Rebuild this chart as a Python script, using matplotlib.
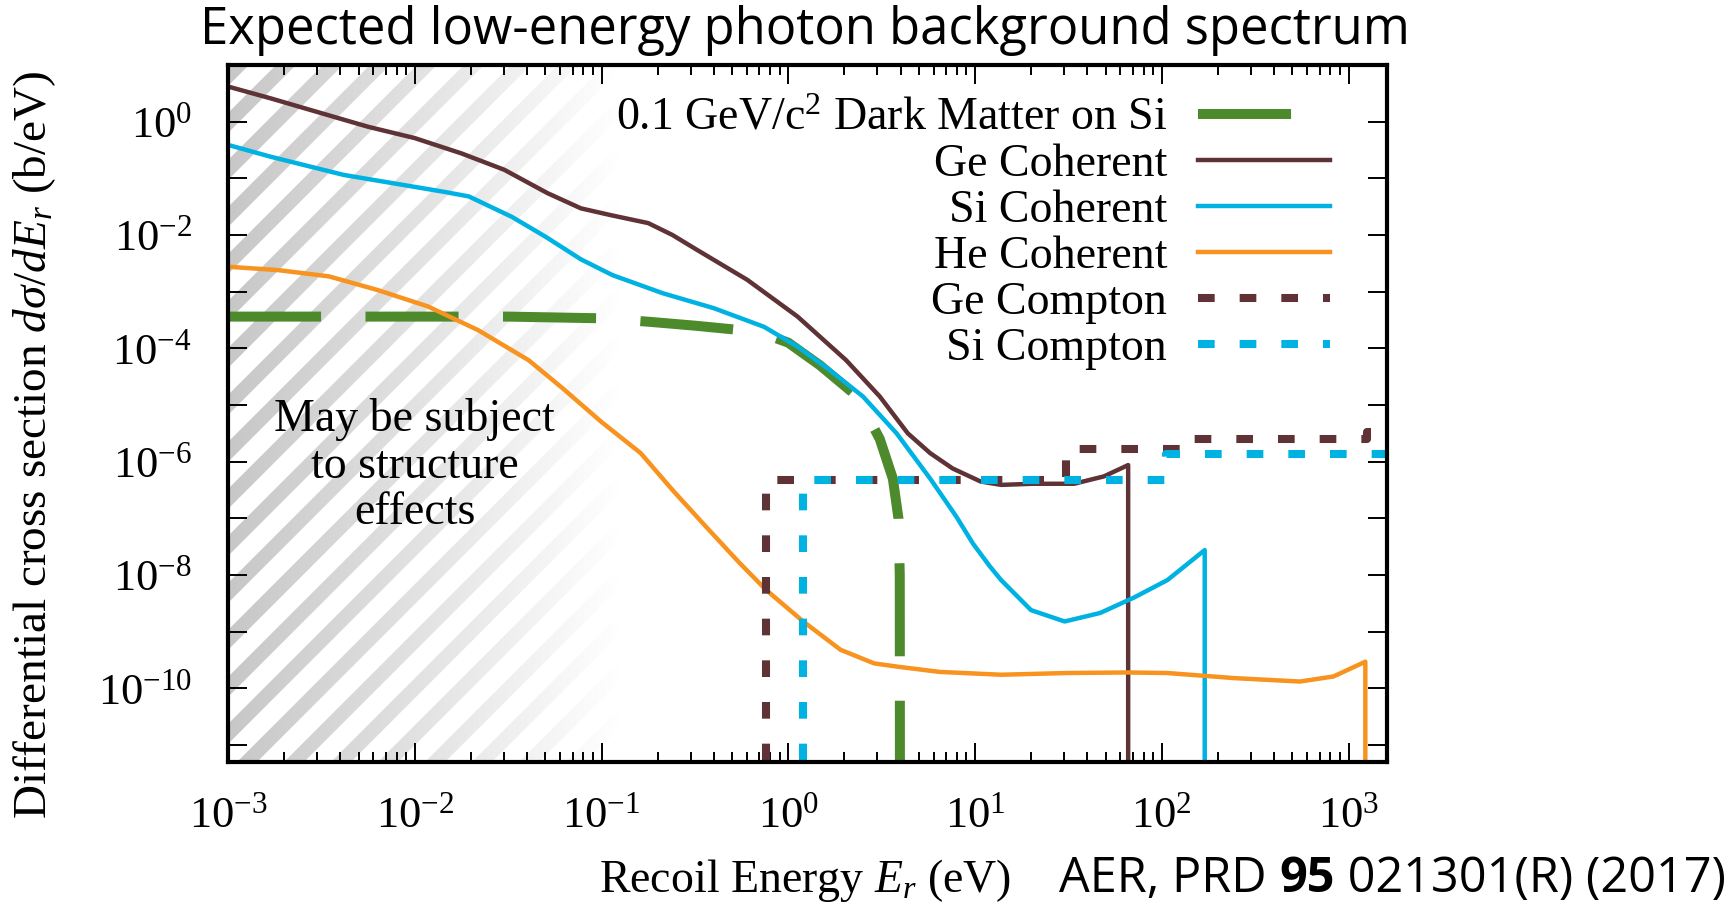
import numpy as np
import matplotlib
matplotlib.use('Agg')
import matplotlib.pyplot as plt
from matplotlib.ticker import LogLocator, FuncFormatter, NullLocator, NullFormatter

plt.rcParams['font.family'] = 'Liberation Serif'
plt.rcParams['mathtext.fontset'] = 'custom'
plt.rcParams['mathtext.rm'] = 'Liberation Serif'
plt.rcParams['mathtext.it'] = 'Liberation Serif:italic'
plt.rcParams['mathtext.bf'] = 'Liberation Serif:bold'
plt.rcParams['lines.scale_dashes'] = False
plt.rcParams['lines.solid_joinstyle'] = 'round'

# all curves given as log10(E / eV) and log10(dsigma/dE / (b/eV))
dm_log_e = [-3.0, -1.5, -1.0, -0.75, -0.5, -0.25, -0.1, 0.0, 0.17, 0.37, 0.49, 0.56, 0.59, 0.597, 0.598]
dm_log_xs = [-3.44, -3.44, -3.47, -3.53, -3.6, -3.68, -3.78, -3.9, -4.3, -4.85, -5.6, -6.3, -7.0, -8.0, -12.0]

ge_coh_log_e = [-3.0, -2.77, -2.5, -2.25, -2.0, -1.75, -1.52, -1.29, -1.11, -0.95, -0.75, -0.62, -0.49,
                -0.22, 0.05, 0.31, 0.49, 0.64, 0.76, 0.88, 1.03, 1.14, 1.31, 1.53, 1.69, 1.82, 1.82]
ge_coh_log_xs = [0.62, 0.41, 0.15, -0.09, -0.29, -0.56, -0.85, -1.26, -1.53, -1.65, -1.79, -2.0, -2.26,
                 -2.79, -3.44, -4.21, -4.85, -5.5, -5.85, -6.12, -6.35, -6.41, -6.39, -6.39, -6.26, -6.06, -12.0]

si_coh_log_e = [-3.0, -2.77, -2.38, -2.11, -1.84, -1.71, -1.48, -1.30, -1.11, -0.94, -0.67, -0.40, -0.13,
                0.05, 0.22, 0.40, 0.58, 0.76, 0.90, 0.99, 1.08, 1.14, 1.30, 1.48, 1.67, 1.85, 2.03, 2.23, 2.23]
si_coh_log_xs = [-0.41, -0.62, -0.94, -1.09, -1.24, -1.32, -1.68, -2.03, -2.43, -2.71, -3.03, -3.29, -3.62,
                 -3.97, -4.38, -4.85, -5.5, -6.3, -6.97, -7.45, -7.85, -8.09, -8.62, -8.82, -8.67, -8.40,
                 -8.09, -7.56, -12.0]

he_coh_log_e = [-3.0, -2.73, -2.46, -2.2, -1.93, -1.66, -1.39, -1.21, -1.0, -0.79, -0.62, -0.44, -0.26,
                -0.12, 0.08, 0.28, 0.46, 0.59, 0.81, 1.14, 1.49, 1.82, 2.03, 2.39, 2.74, 2.92, 3.09, 3.09]
he_coh_log_xs = [-2.56, -2.62, -2.73, -2.97, -3.26, -3.68, -4.21, -4.70, -5.3, -5.85, -6.5, -7.15, -7.79,
                 -8.26, -8.82, -9.32, -9.56, -9.62, -9.71, -9.76, -9.73, -9.72, -9.73, -9.82, -9.88, -9.79,
                 -9.53, -12.0]

# Compton: piecewise constant between edge energies
ge_compton_edges = [-0.118, 1.489, 2.14, 3.10, 3.21]
ge_compton_levels = [-6.32, -5.78, -5.60, -5.47]
si_compton_edges = [0.078, 2.02, 3.21]
si_compton_levels = [-6.32, -5.86]

labels = [r'0.1 GeV/c$^2$ Dark Matter on Si', 'Ge Coherent', 'Si Coherent', 'He Coherent',
          'Ge Compton', 'Si Compton']

GE_COL = '#5f3236'
SI_COL = '#00b2e2'
HE_COL = '#f7931e'
DM_COL = '#4c8a2b'


def steps(edges, levels, floor=-12.0):
    xs, ys = [edges[0]], [floor]
    for i, lv in enumerate(levels):
        xs += [edges[i], edges[i + 1]]
        ys += [lv, lv]
    return np.array(xs), np.array(ys)


def pw(a):
    return 10.0 ** np.asarray(a)


W_PX, H_PX = 1734, 902
x0, x1, y0, y1 = 228, 1387, 65, 762
rect = [x0 / W_PX, 1 - y1 / H_PX, (x1 - x0) / W_PX, (y1 - y0) / H_PX]

fig = plt.figure(figsize=(W_PX / 100, H_PX / 100), dpi=100)

# striped, fading band for the low-energy region
bg = fig.add_axes(rect, zorder=0)
aw, ah = x1 - x0, y1 - y0
band_w = 420
jj, rr = np.meshgrid(np.arange(band_w), np.arange(ah))
phase = (jj + rr) % 47
cov = np.clip(np.minimum(phase + 0.5, 20.5 - phase), 0, 1)
shade = 0.78 + 0.22 * np.clip(jj / 390.0, 0, 1)
gray = 1 - cov * (1 - shade)
img = np.dstack([gray, gray, gray])
bg.imshow(img, extent=(0, band_w / aw, 0, 1), aspect='auto', interpolation='nearest')
bg.set_xlim(0, 1)
bg.set_ylim(0, 1)
bg.axis('off')

ax = fig.add_axes(rect, zorder=1)
ax.patch.set_alpha(0)

ax.plot(pw(dm_log_e), pw(dm_log_xs), color=DM_COL, lw=7.2, dashes=(67, 32), label=labels[0])
ax.plot(pw(ge_coh_log_e), pw(ge_coh_log_xs), color=GE_COL, lw=3.2, label=labels[1])
ax.plot(pw(si_coh_log_e), pw(si_coh_log_xs), color=SI_COL, lw=3.2, label=labels[2])
ax.plot(pw(he_coh_log_e), pw(he_coh_log_xs), color=HE_COL, lw=3.2, label=labels[3])
gx, gy = steps(ge_compton_edges, ge_compton_levels)
ax.plot(pw(gx), pw(gy), color=GE_COL, lw=5.8, dashes=(12, 18), label=labels[4])
sx, sy = steps(si_compton_edges, si_compton_levels)
ax.plot(pw(sx), pw(sy), color=SI_COL, lw=5.8, dashes=(12, 18), label=labels[5])

ax.set_xscale('log')
ax.set_yscale('log')
ax.set_xlim(1e-3, 10 ** 3.206)
ax.set_ylim(10 ** -11.3, 10 ** 1.0)

ax.xaxis.set_major_locator(LogLocator(base=10, subs=(1.0,), numticks=30))
ax.xaxis.set_minor_locator(LogLocator(base=10, subs=np.arange(2, 10), numticks=30))
ax.xaxis.set_minor_formatter(NullFormatter())
ax.xaxis.set_major_formatter(FuncFormatter(lambda v, p: r'$10^{%d}$' % round(np.log10(v))))
ax.yaxis.set_major_locator(LogLocator(base=10, subs=(1.0,), numticks=40))
ax.yaxis.set_minor_locator(NullLocator())


def ylab(v, p):
    e = int(round(np.log10(v)))
    return r'$10^{%d}$' % e if e % 2 == 0 else ''


ax.yaxis.set_major_formatter(FuncFormatter(ylab))

ax.tick_params(which='both', direction='in', top=True, right=True, width=1.4, labelsize=32)
ax.tick_params(which='major', length=14)
ax.tick_params(which='minor', length=7)
ax.tick_params(axis='x', pad=25)
ax.tick_params(axis='y', pad=26)
for s in ax.spines.values():
    s.set_linewidth(3)

ax.text(1e-2, 10 ** -6.08, 'May be subject\nto structure\neffects', ha='center', va='center',
        fontsize=33, linespacing=1.12)

ax.legend(loc='upper right', bbox_to_anchor=(0.951, 0.954), frameon=False, fontsize=33,
          markerfirst=False, handlelength=2.88, handletextpad=0.68, labelspacing=0.08,
          borderpad=0, borderaxespad=0)

fig.text(805 / W_PX, 1 - 31 / H_PX, 'Expected low-energy photon background spectrum',
         ha='center', va='center', family='Open Sans', fontsize=36.5)
fig.text(35 / W_PX, 1 - 445 / H_PX, r'Differential cross section $d\sigma/dE_r$ (b/eV)',
         rotation=90, rotation_mode='anchor', ha='center', va='center', fontsize=34)
fig.text(805 / W_PX, 1 - 892 / H_PX, r'Recoil Energy $E_r$ (eV)', ha='center', va='baseline',
         fontsize=33)

# citation, written right to left so the bold volume sits in between
renderer = fig.canvas.get_renderer()
xr = 1726 / W_PX
yb = 1 - 892 / H_PX
for piece, wt in [(' 021301(R) (2017)', 'normal'), ('95', 'bold'), ('AER, PRD ', 'normal')]:
    t = fig.text(xr, yb, piece, ha='right', va='baseline', family='Open Sans', fontsize=35,
                 fontweight=wt)
    bb = t.get_window_extent(renderer)
    xr = bb.x0 / W_PX

fig.savefig('out.png', dpi=100)
